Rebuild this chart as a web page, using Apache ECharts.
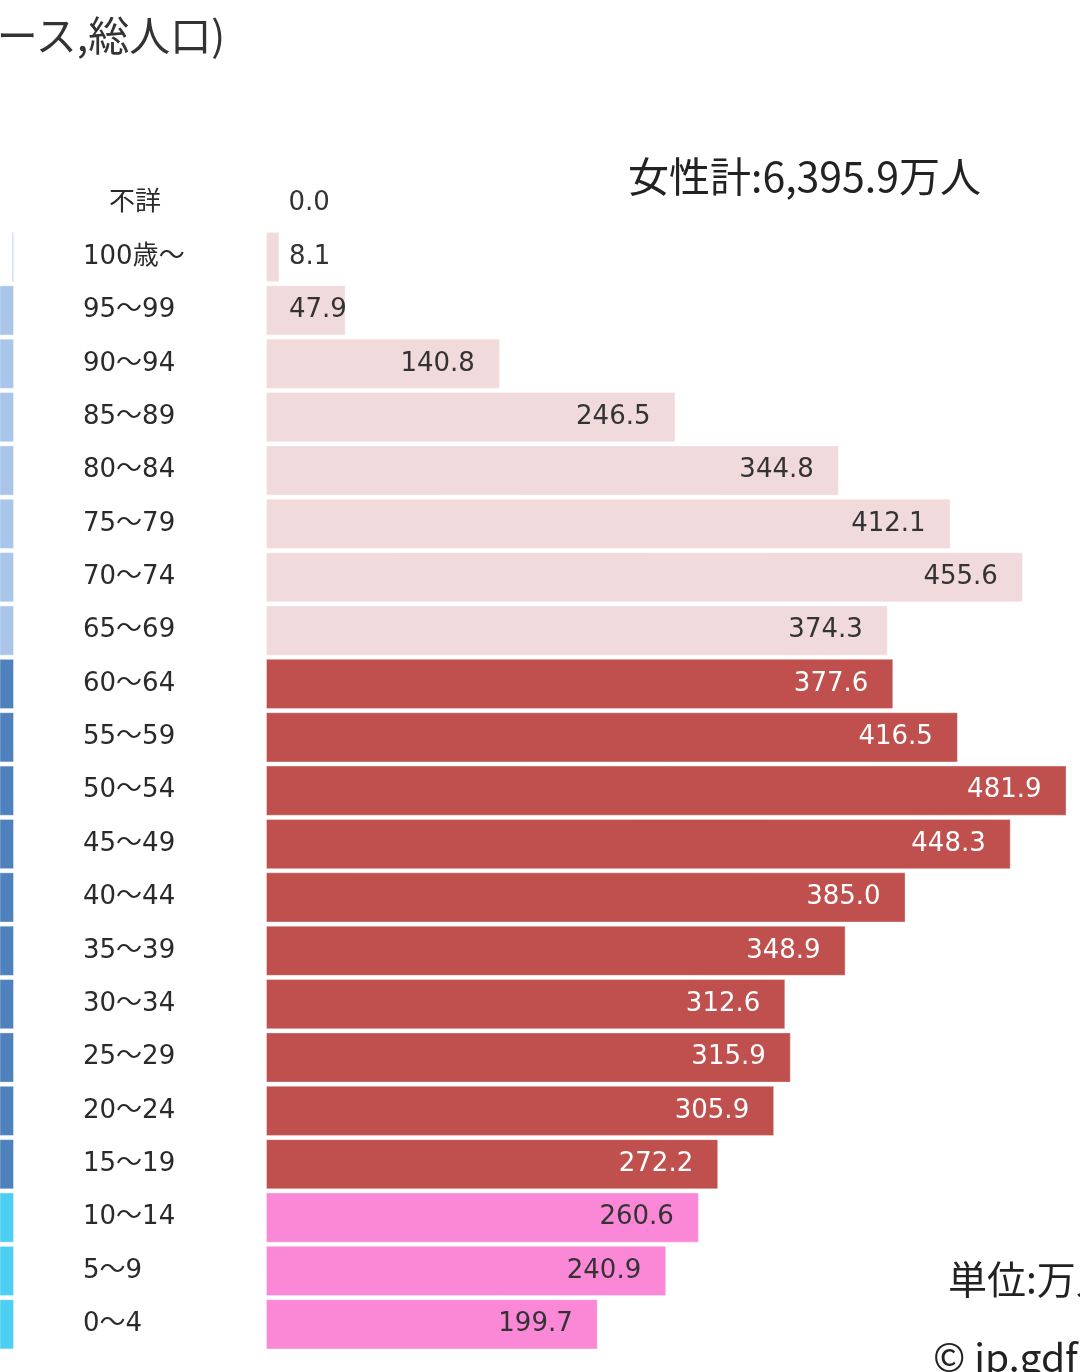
<!DOCTYPE html>
<html>
<head>
<meta charset="utf-8">
<script src="https://cdn.jsdelivr.net/npm/echarts@6/dist/echarts.min.js"></script>
<style>
  html, body { margin: 0; padding: 0; background: #fff; }
  #chart { width: 1080px; height: 1372px; }
</style>
</head>
<body>
<div id="chart"></div>
<script>
// 年齢階級（上から順）
const ageGroups = [
  "不詳", "100歳～", "95～99", "90～94", "85～89", "80～84", "75～79", "70～74",
  "65～69", "60～64", "55～59", "50～54", "45～49", "40～44", "35～39", "30～34",
  "25～29", "20～24", "15～19", "10～14", "5～9", "0～4",
];
// 女性人口（万人）
const femaleValues = [
  0.0, 8.1, 47.9, 140.8, 246.5, 344.8, 412.1, 455.6,
  374.3, 377.6, 416.5, 481.9, 448.3, 385.0, 348.9, 312.6,
  315.9, 305.9, 272.2, 260.6, 240.9, 199.7,
];
// 男性人口（万人）: 左端で切れているため推定値
const maleValues = [
  0.0, 1.3, 14.0, 62.0, 158.0, 260.0, 336.0, 415.0,
  355.0, 370.0, 417.0, 490.0, 459.5, 395.0, 358.0, 320.0,
  322.6, 309.5, 286.1, 273.5, 252.5, 209.6,
];
const titleText = "ース,総人口)";
const femaleTotalText = "女性計:6,395.9万人";
const unitText = "単位:万人";
const creditText = "© jp.gdfreak.com";

const fontFamily = "'DejaVu Sans', 'Noto Sans CJK JP', sans-serif";
const cjkFamily = "'Noto Sans CJK JP', sans-serif";

// 年齢区分: 老年(65歳以上・不詳) / 生産年齢(15～64) / 年少(0～14)
function ageClass(label) {
  if (label === "不詳") return "old";
  const lower = parseInt(label, 10);
  if (lower >= 65) return "old";
  if (lower >= 15) return "work";
  return "young";
}

const femaleColors = { old: "#f1dadc", work: "#c0504d", young: "#fb88d6" };
const femaleText = { old: "#333333", work: "#ffffff", young: "#333333" };
const maleColors = { old: "#a9c6ea", work: "#4f81bd", young: "#4dcff3" };

const femaleData = femaleValues.map((v, i) => {
  const cls = ageClass(ageGroups[i]);
  const small = v < 60;
  return {
    value: v,
    itemStyle: { color: femaleColors[cls] },
    label: small
      ? { position: [23, "50%"], align: "left", verticalAlign: "middle", color: femaleText[cls] }
      : { position: "insideRight", distance: 25, color: femaleText[cls] },
  };
});

const maleData = maleValues.map((v, i) => ({
  value: v,
  itemStyle: { color: maleColors[ageClass(ageGroups[i])] },
}));

const chart = echarts.init(document.getElementById("chart"), null, { renderer: "canvas" });

chart.setOption({
  animation: false,
  backgroundColor: "#ffffff",
  textStyle: { fontFamily },
  grid: [
    { left: 266, right: 0, top: 177, bottom: 21 },
    { left: 0, width: 14, top: 177, bottom: 21 },
  ],
  xAxis: [
    { gridIndex: 0, type: "value", min: 0, max: 490, show: false },
    { gridIndex: 1, type: "value", min: 0, max: 8.4, inverse: true, show: false },
  ],
  yAxis: [
    {
      gridIndex: 0,
      type: "category",
      inverse: true,
      data: ageGroups,
      axisLine: { show: false },
      axisTick: { show: false },
      axisLabel: {
        margin: 183,
        align: "left",
        color: "#2a2a2a",
        fontSize: 26,
        fontFamily,
        // 「不詳」だけ少し右に寄せて表示
        formatter: (v) => (v === "不詳" ? "\u3000" + v : v),
      },
    },
    {
      gridIndex: 1,
      type: "category",
      inverse: true,
      data: ageGroups,
      show: false,
    },
  ],
  series: [
    {
      name: "女性",
      type: "bar",
      xAxisIndex: 0,
      yAxisIndex: 0,
      data: femaleData,
      barCategoryGap: "6%",
      itemStyle: { borderColor: "rgba(255,255,255,0.35)", borderWidth: 1 },
      label: {
        show: true,
        fontSize: 26,
        fontFamily,
        formatter: (p) => p.value.toFixed(1),
      },
    },
    {
      name: "男性",
      type: "bar",
      xAxisIndex: 1,
      yAxisIndex: 1,
      data: maleData,
      barCategoryGap: "6%",
      clip: true,
      itemStyle: { borderColor: "rgba(255,255,255,0.35)", borderWidth: 1 },
    },
  ],
  graphic: [
    {
      type: "text",
      right: 855,
      top: 15,
      style: { text: titleText, fontSize: 41, fontFamily: cjkFamily, fill: "#333333" },
    },
    {
      type: "text",
      left: 628,
      top: 156,
      style: { text: femaleTotalText, fontSize: 41, fontFamily: cjkFamily, fill: "#222222" },
    },
    {
      type: "text",
      left: 948,
      top: 1260,
      style: { text: unitText, fontSize: 39, fontFamily: cjkFamily, fill: "#222222" },
    },
    {
      type: "text",
      left: 933,
      top: 1338,
      style: { text: creditText, fontSize: 39, fontFamily: cjkFamily, fill: "#222222" },
    },
  ],
});
</script>
</body>
</html>
